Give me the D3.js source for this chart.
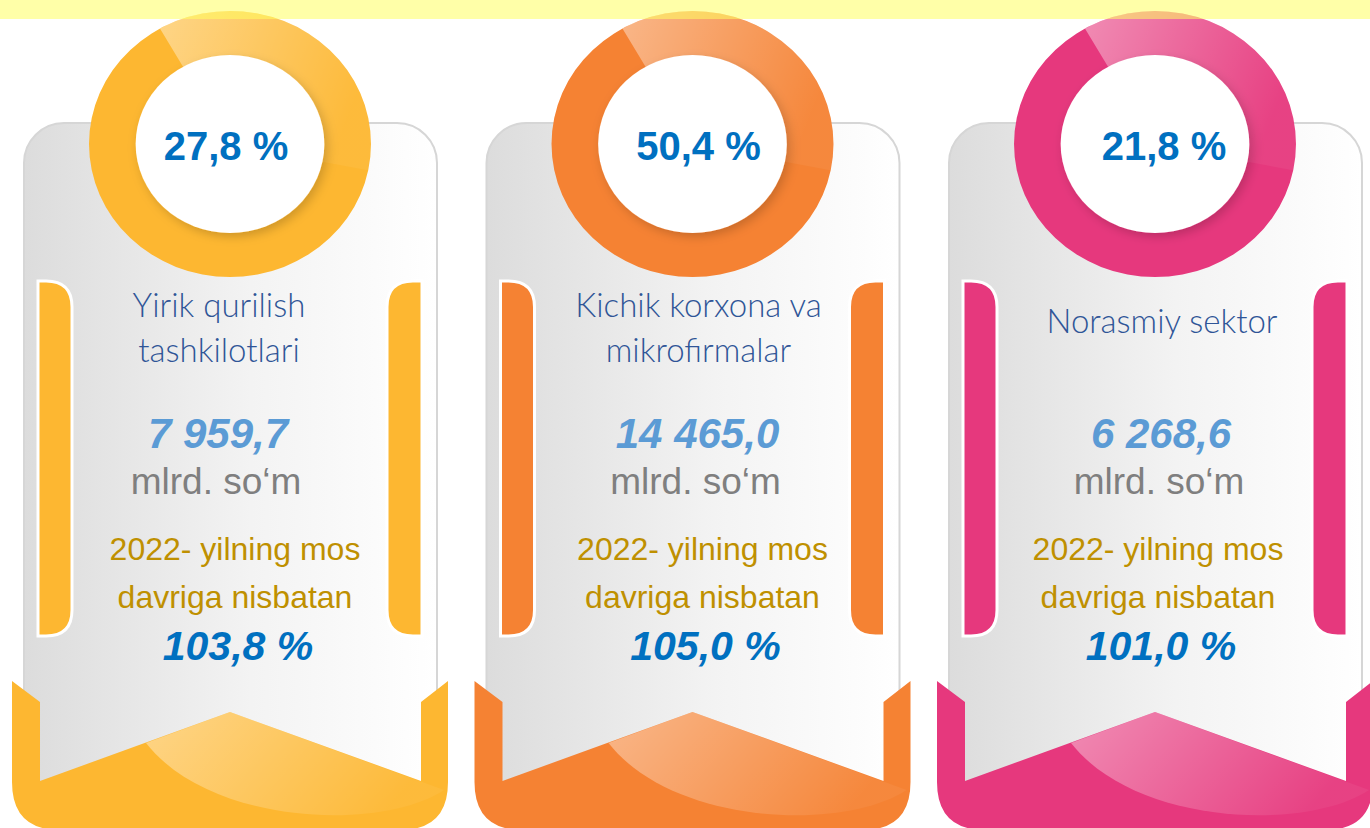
<!DOCTYPE html>
<html>
<head>
<meta charset="utf-8">
<style>
  html, body { margin: 0; padding: 0; background: #fff; }
  svg { display: block; }
</style>
<title>Qurilish ishlari</title>
</head>
<body>
<script src="https://cdn.jsdelivr.net/npm/d3@7/dist/d3.min.js"></script>
<script>
// data
var labelLines = [["Yirik qurilish", "tashkilotlari"], ["Kichik korxona va", "mikrofirmalar"], ["Norasmiy sektor"]];
var shares  = [27.8, 50.4, 21.8];          // ulush, %
var volumes = [7959.7, 14465.0, 6268.6];   // mlrd. so'm
var growth  = [103.8, 105.0, 101.0];       // 2022 ga nisbatan, %
var colors  = ["#FDB731", "#F58233", "#E6387D"];
var unitLabel = "mlrd. so\u2018m";
var compareLines = ["2022- yilning mos", "davriga nisbatan"];

var W = 1370, H = 828;
var loc = d3.formatLocale({decimal: ",", thousands: " ", grouping: [3]});
var fmt1 = loc.format(",.1f");

// small per-card nudges of the text blocks, as in the original slide
var shiftPct = [-4, 6, 9], shiftTop = [-11, 6, 7], shiftLow = [5, 10, 3];

var svg = d3.select("body").append("svg").attr("width", W).attr("height", H);
var defs = svg.append("defs");

// card positions
var x = d3.scaleBand().domain(d3.range(shares.length)).range([-1.25, 1386.25]);
function cx(i) { return x(i) + x.bandwidth() / 2; }

var gGray = defs.append("linearGradient").attr("id", "gray").attr("x1", 0).attr("x2", 1).attr("y1", 0).attr("y2", 0);
gGray.append("stop").attr("offset", 0).attr("stop-color", "#dcdcdc");
gGray.append("stop").attr("offset", 0.55).attr("stop-color", "#f3f3f3");
gGray.append("stop").attr("offset", 1).attr("stop-color", "#ffffff");

var gHi = defs.append("linearGradient").attr("id", "hi").attr("x1", 0).attr("x2", 1).attr("y1", 0).attr("y2", 0.3);
gHi.append("stop").attr("offset", 0).attr("stop-color", "#fff").attr("stop-opacity", 0.42);
gHi.append("stop").attr("offset", 1).attr("stop-color", "#fff").attr("stop-opacity", 0.05);

var sh = defs.append("filter").attr("id", "shadow").attr("x", -0.3).attr("y", -0.3).attr("width", 1.6).attr("height", 1.6);
sh.append("feDropShadow").attr("dx", 3).attr("dy", 4).attr("stdDeviation", 5).attr("flood-color", "#000").attr("flood-opacity", 0.18);

var cards = svg.selectAll("g.card").data(shares).join("g").attr("class", "card");

cards.each(function(d, i) {
  var g = d3.select(this), c = cx(i), col = colors[i];

  // gray card body
  g.append("rect").attr("x", c - 206).attr("y", 123).attr("width", 413).attr("height", 680)
    .attr("rx", 40).attr("fill", "url(#gray)").attr("stroke", "#d6d6d6").attr("stroke-width", 2);

  // side bars
  var barTop = 281, barBot = 636, r = 26;
  g.append("path")
    .attr("d", "M" + (c - 192) + "," + barTop + " L" + (c - 158 - r) + "," + barTop +
      " Q" + (c - 158) + "," + barTop + " " + (c - 158) + "," + (barTop + r) +
      " L" + (c - 158) + "," + (barBot - r) + " Q" + (c - 158) + "," + barBot + " " + (c - 158 - r) + "," + barBot +
      " L" + (c - 192) + "," + barBot + " Z")
    .attr("fill", col).attr("stroke", "#fff").attr("stroke-width", 3);
  g.append("path")
    .attr("d", "M" + (c + 192) + "," + barTop + " L" + (c + 157 + r) + "," + barTop +
      " Q" + (c + 157) + "," + barTop + " " + (c + 157) + "," + (barTop + r) +
      " L" + (c + 157) + "," + (barBot - r) + " Q" + (c + 157) + "," + barBot + " " + (c + 157 + r) + "," + barBot +
      " L" + (c + 192) + "," + barBot + " Z")
    .attr("fill", col).attr("stroke", "#fff").attr("stroke-width", 3);

  // bottom ribbon
  var yB = 830, rr = 48;
  g.append("path")
    .attr("d", "M" + (c - 218) + ",681 L" + (c - 190) + ",702 L" + (c - 190) + ",781 L" + c + ",712 L" +
      (c + 191) + ",781 L" + (c + 191) + ",702 L" + (c + 218) + ",681 L" + (c + 218) + "," + (yB - rr) +
      " Q" + (c + 218) + "," + yB + " " + (c + 218 - rr) + "," + yB + " L" + (c - 218 + rr) + "," + yB +
      " Q" + (c - 218) + "," + yB + " " + (c - 218) + "," + (yB - rr) + " Z")
    .attr("fill", col);
  g.append("path")
    .attr("d", "M" + (c - 84) + ",743 L" + c + ",712 L" + (c + 214) + ",790 C" + (c + 150) + ",832 " +
      (c - 20) + ",825 " + (c - 84) + ",743 Z")
    .attr("fill", "url(#hi)");

  // ring
  var ring = g.append("g").attr("transform", "translate(" + c + ",144) scale(1.06,1)");
  ring.append("path").attr("d", d3.arc().innerRadius(88)(({outerRadius: 133, startAngle: 0, endAngle: 2 * Math.PI}))).attr("fill", col);
  ring.append("path").attr("d", d3.arc().innerRadius(88)(({outerRadius: 133, startAngle: -0.52, endAngle: 1.77})))
    .attr("fill", "url(#hi)");
  ring.append("circle").attr("r", 89).attr("fill", "#fff").attr("filter", "url(#shadow)");
});

// top band (drawn over the rings)
svg.append("rect").attr("x", 0).attr("y", 0).attr("width", W).attr("height", 19)
  .attr("fill", "#ffff60").attr("opacity", 0.55);

var ff = "'Liberation Sans', Arial, sans-serif";

cards.append("text").attr("x", function(d, i) { return cx(i) + shiftPct[i]; }).attr("y", 160)
  .attr("text-anchor", "middle").attr("font-family", ff).attr("font-weight", "bold").attr("font-size", 40)
  .attr("fill", "#0070C0").text(function(d) { return fmt1(d) + " %"; });

cards.each(function(d, i) {
  var lines = labelLines[i];
  var t = d3.select(this).append("text").attr("text-anchor", "middle")
    .attr("font-family", "Lato, 'Open Sans', sans-serif").attr("font-weight", 300)
    .attr("font-size", 33).attr("fill", "#2F5597");
  lines.forEach(function(s, k) {
    t.append("tspan").attr("x", cx(i) + shiftTop[i]).attr("y", (lines.length === 1 ? 333 : 317) + k * 45).text(s);
  });
});

cards.append("text").attr("x", function(d, i) { return cx(i) + shiftTop[i] - 1; }).attr("y", 448)
  .attr("text-anchor", "middle").attr("font-family", ff).attr("font-weight", "bold").attr("font-style", "italic")
  .attr("font-size", 42).attr("fill", "#5B9BD5").text(function(d, i) { return fmt1(volumes[i]); });

cards.append("text").attr("x", function(d, i) { return cx(i) + shiftTop[i] - 3; }).attr("y", 494)
  .attr("text-anchor", "middle").attr("font-family", ff).attr("font-size", 37).attr("fill", "#7F7F7F").text(unitLabel);

cards.each(function(d, i) {
  var t = d3.select(this).append("text").attr("text-anchor", "middle")
    .attr("font-family", ff).attr("font-size", 32).attr("fill", "#BF9000");
  compareLines.forEach(function(s, k) {
    t.append("tspan").attr("x", cx(i) + shiftLow[i]).attr("y", 560 + k * 48).text(s);
  });
});

cards.append("text").attr("x", function(d, i) { return cx(i) + shiftLow[i] + 3; }).attr("y", 660)
  .attr("text-anchor", "middle").attr("font-family", ff).attr("font-weight", "bold").attr("font-style", "italic")
  .attr("font-size", 41).attr("fill", "#0070C0").text(function(d, i) { return fmt1(growth[i]) + " %"; });
</script>
</body>
</html>
